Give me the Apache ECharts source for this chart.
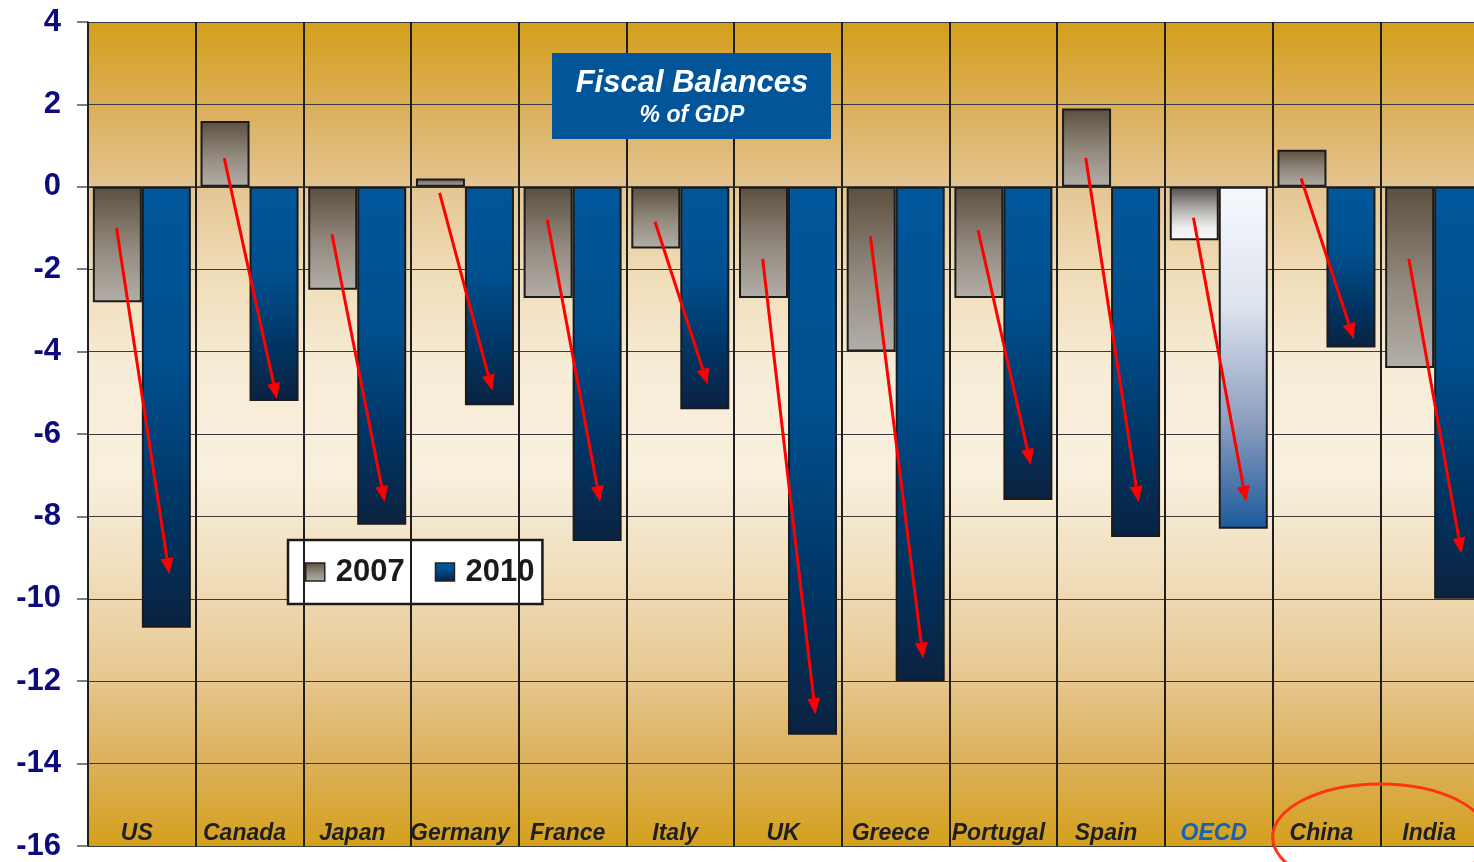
<!DOCTYPE html>
<html>
<head>
<meta charset="utf-8">
<title>Fiscal Balances</title>
<script src="https://cdn.jsdelivr.net/npm/echarts@6/dist/echarts.min.js"></script>
<style>
  html, body { margin: 0; padding: 0; background: #ffffff; }
  #chart { width: 1474px; height: 862px; }
</style>
</head>
<body>
<div id="chart"></div>
<script>
// Country groups along the horizontal axis
const categories = ['US', 'Canada', 'Japan', 'Germany', 'France', 'Italy', 'UK',
  'Greece', 'Portugal', 'Spain', 'OECD', 'China', 'India'];

// General government fiscal balance, % of GDP
const balance2007 = [-2.8, 1.6, -2.5, 0.2, -2.7, -1.5, -2.7, -4.0, -2.7, 1.9, -1.3, 0.9, -4.4];
const balance2010 = [-10.7, -5.2, -8.2, -5.3, -8.6, -5.4, -13.3, -12.0, -7.6, -8.5, -8.3, -3.9, -10.0];

// Red deterioration arrows: start and tip levels on the value scale
const arrowFrom = [-1.0, 0.7, -1.15, -0.15, -0.8, -0.85, -1.75, -1.2, -1.05, 0.7, -0.75, 0.2, -1.75];
const arrowTo = [-9.4, -5.15, -7.65, -4.95, -7.65, -4.8, -12.8, -11.45, -6.75, -7.65, -7.65, -3.7, -8.9];

// Value-axis ticks
const yMin = -16, yMax = 4, yStep = 2;

const FONT = '"Liberation Sans", Arial, sans-serif';
const highlight = 'OECD';

const grad = (stops) => ({
  type: 'linear', x: 0, y: 0, x2: 0, y2: 1,
  colorStops: stops.map(([o, c]) => ({ offset: o, color: c }))
});

const fill2007 = grad([[0, '#5b4f3f'], [0.55, '#948b80'], [1, '#b2aea7']]);
const fill2010 = grad([[0, '#00579b'], [0.4, '#00508f'], [0.75, '#003462'], [1, '#0b2240']]);
const fill2007Agg = grad([[0, '#524e4a'], [0.45, '#b8b6b3'], [0.75, '#ececec'], [1, '#f8f8f8']]);
const fill2010Agg = grad([[0, '#f7f9fd'], [0.35, '#dde3ee'], [0.7, '#8a9bbd'], [1, '#1a5a9c']]);

const plotBg = grad([
  [0, '#d4a01a'], [0.1, '#dbae57'], [0.2, '#e4c592'], [0.3, '#efdbb6'],
  [0.42, '#f7ecd7'], [0.55, '#f8efdd'], [0.68, '#f0dcb8'], [0.8, '#e6c68d'],
  [0.9, '#dcb05a'], [1, '#d4a01c']
]);

const barStyle = { borderColor: '#1b1b1b', borderWidth: 2 };

const series2007 = balance2007.map((v, i) => categories[i] === highlight
  ? { value: v, itemStyle: { color: fill2007Agg } } : v);
const series2010 = balance2010.map((v, i) => categories[i] === highlight
  ? { value: v, itemStyle: { color: fill2010Agg } } : v);

const arrowData = categories.map((c, i) => [i, arrowFrom[i], arrowTo[i]]);

function renderArrow(params, api) {
  const idx = api.value(0);
  const bandW = api.size([1, 0])[0];
  const a = api.coord([idx, api.value(1)]);
  const b = api.coord([idx, api.value(2)]);
  const x0 = a[0] - bandW * 0.235, y0 = a[1];
  const x1 = b[0] + bandW * 0.255, y1 = b[1];
  const dx = x1 - x0, dy = y1 - y0;
  const len = Math.sqrt(dx * dx + dy * dy);
  const ux = dx / len, uy = dy / len;
  const headL = 16, headW = 6.5;
  const bx = x1 - ux * headL, by = y1 - uy * headL;
  return {
    type: 'group',
    children: [
      { type: 'line', shape: { x1: x0, y1: y0, x2: bx, y2: by },
        style: { stroke: '#ff0000', lineWidth: 3 } },
      { type: 'polygon',
        shape: { points: [[x1, y1], [bx - uy * headW, by + ux * headW], [bx + uy * headW, by - ux * headW]] },
        style: { fill: '#ff0000' } }
    ]
  };
}

function titleBox() {
  return {
    type: 'group', left: 552, top: 53, z: 10,
    children: [
      { type: 'rect', z: 10, shape: { x: 0, y: 0, width: 279, height: 86 },
        style: { fill: '#03559a' } },
      { type: 'text', z: 11, x: 140, y: 30,
        style: { text: 'Fiscal Balances', fill: '#ffffff', font: 'italic bold 31px ' + FONT,
          textAlign: 'center', textVerticalAlign: 'middle' } },
      { type: 'text', z: 11, x: 140, y: 63,
        style: { text: '% of GDP', fill: '#ffffff', font: 'italic bold 23px ' + FONT,
          textAlign: 'center', textVerticalAlign: 'middle' } }
    ]
  };
}

const chart = echarts.init(document.getElementById('chart'), null, { renderer: 'canvas' });

chart.setOption({
  animation: false,
  backgroundColor: '#ffffff',
  grid: {
    show: true, z: 0, left: 88, top: 22, right: -14, height: 824,
    outerBoundsMode: 'none',
    backgroundColor: plotBg, borderWidth: 0
  },
  legend: {
    z: 0.5,
    left: 288, top: 540,
    padding: [15, 8, 15, 17],
    itemGap: 30,
    icon: 'rect',
    itemWidth: 19, itemHeight: 18,
    backgroundColor: '#ffffff',
    borderColor: '#1a1a1a', borderWidth: 2.5,
    itemStyle: { borderColor: '#222222', borderWidth: 1.5 },
    textStyle: { fontFamily: FONT, fontSize: 31, fontWeight: 'bold', color: '#1a1a1a',
      padding: [0, 0, 0, 6], lineHeight: 34 },
    data: ['2007', '2010']
  },
  xAxis: {
    type: 'category', z: 1,
    data: categories,
    boundaryGap: true,
    axisLine: { show: true, lineStyle: { color: '#2a2a2a', width: 1.5 } },
    axisTick: { show: false },
    splitLine: { show: true, interval: 0, lineStyle: { color: '#1e1e1e', width: 2 } },
    axisLabel: {
      inside: true, interval: 0, margin: 1, verticalAlign: 'bottom',
      padding: [0, 10, 0, 0],
      fontFamily: FONT, fontSize: 23, fontWeight: 'bold', fontStyle: 'italic',
      color: (v) => v === highlight ? '#1663b3' : '#1f1f1f'
    }
  },
  yAxis: {
    type: 'value', z: 0.2,
    min: yMin, max: yMax, interval: yStep,
    axisLine: { show: true, lineStyle: { color: '#2a2a2a', width: 1.5 } },
    axisTick: { show: true, length: 11, lineStyle: { color: '#555555', width: 1.5 } },
    splitLine: { show: true, lineStyle: { color: '#3a3a3a', width: 1.2 } },
    axisLabel: {
      margin: 27, fontFamily: FONT, fontSize: 31, fontWeight: 'bold', color: '#0b0b7d'
    }
  },
  series: [
    {
      name: '2007', type: 'bar', z: 2,
      barWidth: 49, barGap: '0%',
      itemStyle: Object.assign({ color: fill2007 }, barStyle),
      data: series2007
    },
    {
      name: '2010', type: 'bar', z: 2,
      barWidth: 49, barGap: '0%',
      itemStyle: Object.assign({ color: fill2010 }, barStyle),
      data: series2010
    },
    {
      name: 'arrows', type: 'custom', z: 3,
      renderItem: renderArrow,
      encode: { x: 0, y: [1, 2] },
      data: arrowData,
      silent: true
    }
  ],
  graphic: [titleBox()]
});

// Highlight ring around the emerging-market pair, placed from the axis scales
const pChina = chart.convertToPixel({ xAxisIndex: 0 }, 'China');
const pIndia = chart.convertToPixel({ xAxisIndex: 0 }, 'India');
const pBottom = chart.convertToPixel({ yAxisIndex: 0 }, yMin);
chart.setOption({
  graphic: [
    titleBox(),
    {
      type: 'ellipse', z: 11, silent: true,
      shape: { cx: (pChina + pIndia) / 2, cy: pBottom - 9, rx: (pIndia - pChina) * 1.0, ry: 53 },
      style: { fill: 'none', stroke: '#ff3412', lineWidth: 3 }
    }
  ]
}, { replaceMerge: ['graphic'] });
</script>
</body>
</html>
